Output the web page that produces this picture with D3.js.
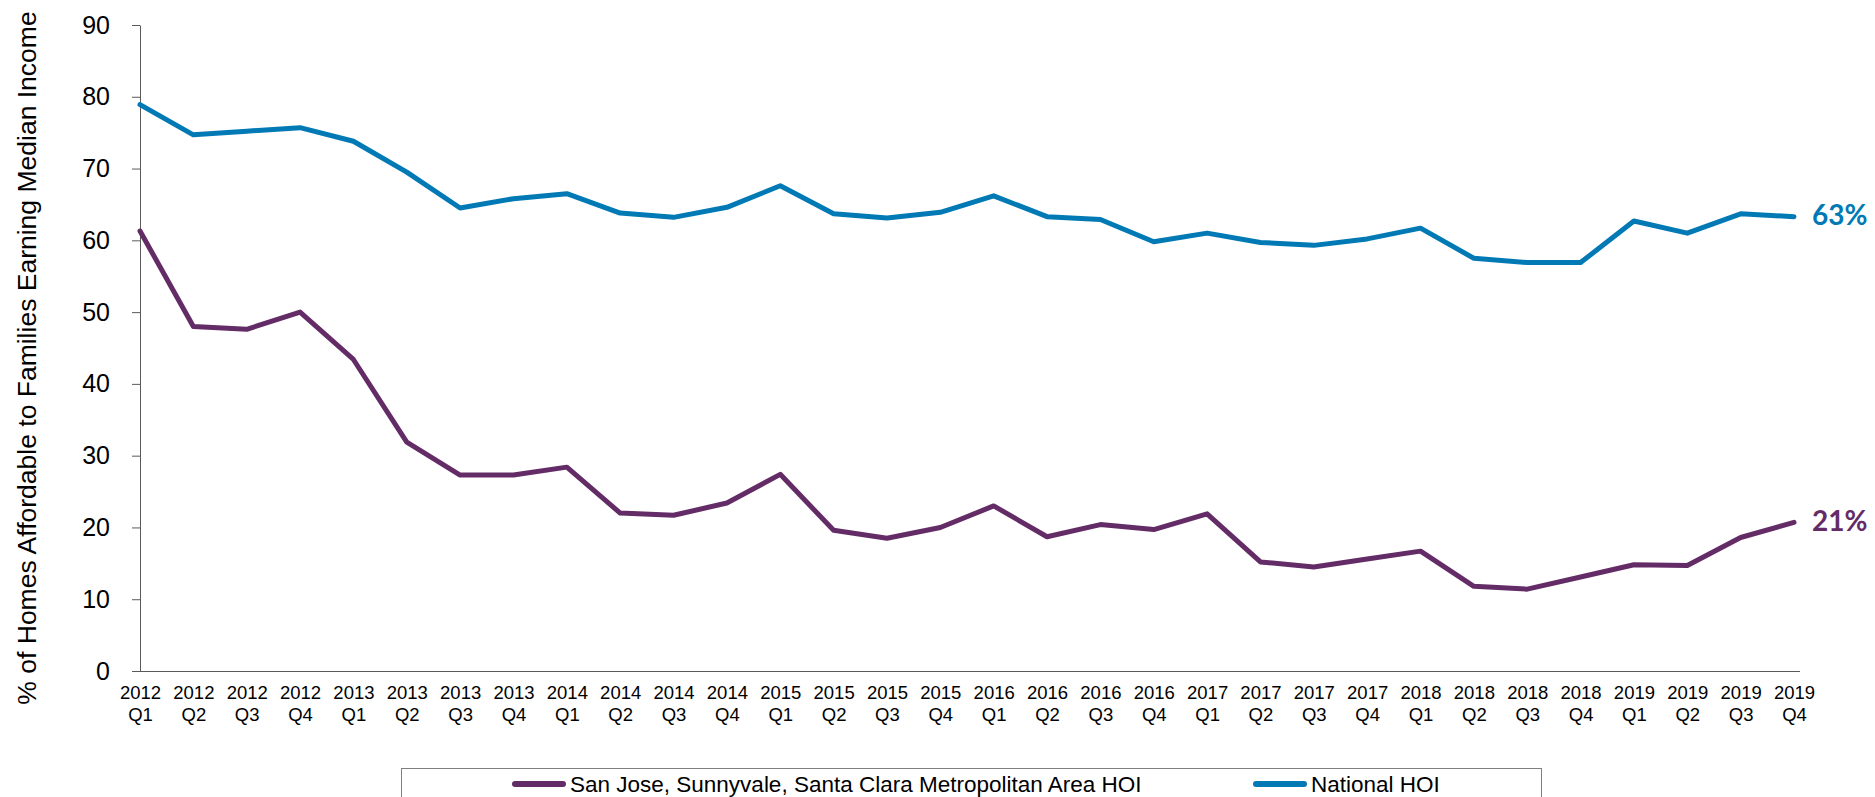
<!DOCTYPE html>
<html>
<head>
<meta charset="utf-8">
<script src="https://cdn.jsdelivr.net/npm/d3@7"></script>
<style>
  html, body { margin: 0; padding: 0; background: #ffffff; }
  svg { display: block; }
  text { font-family: "Liberation Sans", Arial, sans-serif; fill: #000; }
</style>
</head>
<body>
<svg id="chart" width="1875" height="797"></svg>
<script>
// Quarterly Housing Opportunity Index (share of homes affordable to median-income families)
const quarters = [
  "2012 Q1","2012 Q2","2012 Q3","2012 Q4",
  "2013 Q1","2013 Q2","2013 Q3","2013 Q4",
  "2014 Q1","2014 Q2","2014 Q3","2014 Q4",
  "2015 Q1","2015 Q2","2015 Q3","2015 Q4",
  "2016 Q1","2016 Q2","2016 Q3","2016 Q4",
  "2017 Q1","2017 Q2","2017 Q3","2017 Q4",
  "2018 Q1","2018 Q2","2018 Q3","2018 Q4",
  "2019 Q1","2019 Q2","2019 Q3","2019 Q4"
];

const metroHOI = [
  61.3, 48.0, 47.6, 50.0,
  43.4, 31.9, 27.3, 27.3,
  28.4, 22.0, 21.7, 23.4,
  27.4, 19.6, 18.5, 20.0,
  23.0, 18.7, 20.4, 19.7,
  21.9, 15.2, 14.5, 15.6,
  16.7, 11.8, 11.4, 13.1,
  14.8, 14.7, 18.6, 20.7
];

const nationalHOI = [
  78.9, 74.7, 75.2, 75.7,
  73.8, 69.5, 64.5, 65.8,
  66.5, 63.8, 63.2, 64.6,
  67.6, 63.7, 63.1, 63.9,
  66.2, 63.3, 62.9, 59.8,
  61.0, 59.7, 59.3, 60.2,
  61.7, 57.5, 56.9, 56.9,
  62.7, 61.0, 63.7, 63.3
];

const yTicks = [0, 10, 20, 30, 40, 50, 60, 70, 80, 90];

const seriesNames = [
  "San Jose, Sunnyvale, Santa Clara Metropolitan Area HOI",
  "National HOI"
];
const seriesColors = ["#642c66", "#0079b5"];
const yTitle = "% of Homes Affordable to Families Earning Median Income";

const series = [
  { name: seriesNames[0], values: metroHOI, color: seriesColors[0] },
  { name: seriesNames[1], values: nationalHOI, color: seriesColors[1] }
];

const svg = d3.select("#chart");

const x = d3.scalePoint().domain(quarters).range([140, 1794]);
const y = d3.scaleLinear().domain([0, 90]).range([671, 25]);

// y axis
const yAxis = svg.append("g")
  .attr("transform", `translate(${x.range()[0]},0)`)
  .call(d3.axisLeft(y).tickValues(yTicks).tickSize(8).tickSizeOuter(0).tickPadding(22));
yAxis.select(".domain").attr("stroke", "#5a5a5a");
yAxis.selectAll(".tick line").attr("stroke", "#5a5a5a");
yAxis.selectAll(".tick text")
  .style("font-family", "'Liberation Sans', Arial, sans-serif")
  .style("font-size", "25px")
  .attr("fill", "#000");

// x axis (two-line category labels, no tick marks)
const xAxis = svg.append("g")
  .attr("transform", `translate(0,${y(0)})`)
  .call(d3.axisBottom(x).tickSize(0).tickSizeOuter(0).tickFormat(""));
xAxis.select(".domain")
  .attr("stroke", "#5a5a5a")
  .attr("d", `M${x.range()[0] - 8},0.5H${x.range()[1] + 6}`);
xAxis.selectAll(".tick").each(function (d) {
  const parts = d.split(" ");
  const t = d3.select(this).append("text")
    .attr("text-anchor", "middle")
    .style("font-family", "'Liberation Sans', Arial, sans-serif")
    .style("font-size", "18.5px")
    .attr("fill", "#000");
  t.append("tspan").attr("x", 0).attr("y", 28).text(parts[0]);
  t.append("tspan").attr("x", 0).attr("y", 50).text(parts[1]);
});

// y axis title
svg.append("text")
  .attr("transform", `translate(36,${(y(0) + y(90)) / 2 + 10}) rotate(-90)`)
  .attr("text-anchor", "middle")
  .style("font-size", "26.5px")
  .text(yTitle);

// series lines
const line = d3.line()
  .x((d, i) => x(quarters[i]))
  .y(d => y(d));

svg.append("g").selectAll("path")
  .data(series)
  .join("path")
  .attr("d", d => line(d.values))
  .attr("fill", "none")
  .attr("stroke", d => d.color)
  .attr("stroke-width", 5)
  .attr("stroke-linejoin", "round")
  .attr("stroke-linecap", "round");

// end-of-line value labels
svg.append("g").selectAll("text")
  .data(series)
  .join("text")
  .attr("x", x(quarters[quarters.length - 1]) + 18)
  .attr("y", d => y(d.values[d.values.length - 1]))
  .attr("dy", "0.3em")
  .style("font-family", "Lato, 'Open Sans', sans-serif")
  .style("font-weight", "bold")
  .style("font-size", "28px")
  .style("fill", d => d.color)
  .text(d => Math.round(d.values[d.values.length - 1]) + "%");

// legend
const legend = svg.append("g");
legend.append("rect")
  .attr("x", 401.5).attr("y", 768.5)
  .attr("width", 1140).attr("height", 60)
  .attr("fill", "none")
  .attr("stroke", "#7f7f7f")
  .attr("stroke-width", 1);

const legendItems = [
  { s: series[0], x: 512 },
  { s: series[1], x: 1253 }
];
const li = legend.selectAll("g.item")
  .data(legendItems)
  .join("g")
  .attr("class", "item")
  .attr("transform", d => `translate(${d.x},784)`);
li.append("line")
  .attr("x1", 3).attr("x2", 51)
  .attr("y1", 0).attr("y2", 0)
  .attr("stroke", d => d.s.color)
  .attr("stroke-width", 6)
  .attr("stroke-linecap", "round");
li.append("text")
  .attr("x", 58)
  .attr("y", 0)
  .attr("dy", "0.36em")
  .style("font-size", "22.5px")
  .text(d => d.s.name);
</script>
</body>
</html>
